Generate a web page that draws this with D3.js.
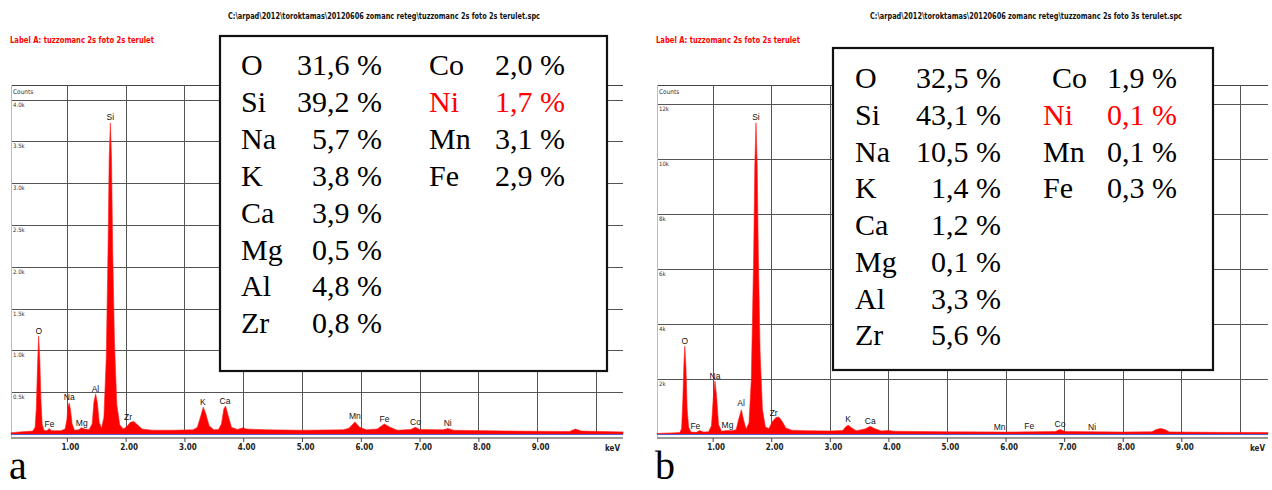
<!DOCTYPE html>
<html>
<head>
<meta charset="utf-8">
<script src="https://cdn.jsdelivr.net/npm/d3@7"></script>
<style>
  body { margin: 0; background: #fff; }
  svg { display: block; }
  .serif { font-family: "Liberation Serif", "DejaVu Serif", "Noto Serif", "Times New Roman", Times, serif; }
</style>
</head>
<body>
<div id="chart"></div>
<script>
// spectrum a: [keV, counts]
const spectrumA = [
  [0.05, 15], [0.2, 25], [0.3, 30], [0.42, 35], [0.46, 80], [0.48, 300], [0.50, 800], [0.52, 1170],
  [0.54, 900], [0.56, 400], [0.58, 120], [0.61, 45], [0.66, 40], [0.70, 65], [0.74, 40], [0.90, 40],
  [0.97, 60], [1.00, 170], [1.02, 330], [1.04, 370], [1.06, 300], [1.09, 120], [1.13, 45], [1.20, 50],
  [1.25, 75], [1.30, 60], [1.38, 55], [1.43, 120], [1.46, 380], [1.49, 480], [1.52, 370], [1.55, 140],
  [1.59, 70], [1.63, 200], [1.67, 900], [1.70, 2200], [1.72, 3300], [1.74, 3720], [1.76, 3300],
  [1.78, 2200], [1.81, 1100], [1.85, 350], [1.90, 110], [1.96, 60], [2.02, 90], [2.08, 140], [2.14, 150],
  [2.20, 110], [2.28, 60], [2.45, 45], [2.8, 45], [3.15, 50], [3.22, 80], [3.28, 220], [3.32, 320],
  [3.36, 250], [3.42, 100], [3.50, 50], [3.58, 55], [3.63, 120], [3.67, 300], [3.70, 335], [3.74, 230],
  [3.80, 80], [3.90, 55], [4.00, 75], [4.05, 60], [4.4, 50], [5.0, 45], [5.7, 50], [5.80, 70],
  [5.90, 145], [5.98, 80], [6.10, 50], [6.28, 60], [6.40, 120], [6.50, 80], [6.62, 45], [6.85, 55],
  [6.93, 80], [7.00, 55], [7.40, 50], [7.48, 65], [7.58, 45], [8.5, 35], [9.55, 30], [9.65, 60],
  [9.75, 35], [10.46, 25]
];
// spectrum b
const spectrumB = [
  [0.05, 20], [0.3, 40], [0.44, 50], [0.47, 200], [0.49, 1200], [0.51, 2600], [0.525, 3190],
  [0.545, 2400], [0.565, 900], [0.59, 250], [0.63, 70], [0.72, 60], [0.78, 130], [0.84, 70], [0.93, 80],
  [0.98, 300], [1.01, 1300], [1.04, 1920], [1.07, 1300], [1.10, 350], [1.15, 100], [1.25, 130],
  [1.32, 120], [1.40, 150], [1.44, 500], [1.49, 885], [1.53, 500], [1.57, 180], [1.62, 400],
  [1.66, 2000], [1.70, 6500], [1.72, 9800], [1.74, 11300], [1.76, 9800], [1.78, 6500], [1.81, 3000],
  [1.85, 900], [1.90, 250], [1.96, 200], [2.02, 450], [2.08, 600], [2.13, 620], [2.18, 480],
  [2.25, 220], [2.35, 140], [2.6, 120], [3.0, 110], [3.22, 130], [3.28, 280], [3.32, 315], [3.37, 230],
  [3.45, 120], [3.6, 180], [3.69, 280], [3.76, 200], [3.88, 110], [4.0, 130], [4.1, 100], [5.0, 80],
  [6.0, 70], [6.85, 90], [6.93, 160], [7.02, 90], [8.0, 70], [8.5, 80], [8.58, 170], [8.65, 200],
  [8.72, 160], [8.80, 75], [9.6, 60], [10.48, 55]
];

// peak markers
const peakNames = ["O", "Fe", "Na", "Mg", "Al", "Si", "Zr", "K", "Ca", "Mn", "Fe", "Co", "Ni"];
const peakKeV = [0.525, 0.705, 1.041, 1.253, 1.486, 1.739, 2.042, 3.312, 3.690, 5.899, 6.404, 6.930, 7.478];
const peakLabelA = [1232, 120, 443, 135, 538, 3795, 200, 386, 398, 219, 179, 147, 135];
const peakLabelB = [3387, 290, 2105, 316, 1114, 11518, 773, 545, 483, 265, 290, 352, 265];

// tick labels
const xTicks = [1, 2, 3, 4, 5, 6, 7, 8, 9];
const xGrid = [1, 2, 3, 4, 5, 6, 7, 8, 9, 10];
const yTicksA = [500, 1000, 1500, 2000, 2500, 3000, 3500, 4000];
const yLabelsA = ["0.5k", "1.0k", "1.5k", "2.0k", "2.5k", "3.0k", "3.5k", "4.0k"];
const yTicksB = [2000, 4000, 6000, 8000, 10000, 12000];
const yLabelsB = ["2k", "4k", "6k", "8k", "10k", "12k"];

// composition tables
const elemLeft = ["O", "Si", "Na", "K", "Ca", "Mg", "Al", "Zr"];
const elemRight = ["Co", "Ni", "Mn", "Fe"];
const valLeftA = ["31,6 %", "39,2 %", "5,7 %", "3,8 %", "3,9 %", "0,5 %", "4,8 %", "0,8 %"];
const valRightA = ["2,0 %", "1,7 %", "3,1 %", "2,9 %"];
const valLeftB = ["32,5 %", "43,1 %", "10,5 %", "1,4 %", "1,2 %", "0,1 %", "3,3 %", "5,6 %"];
const valRightB = ["1,9 %", "0,1 %", "0,1 %", "0,3 %"];

const titleA = "C:\\arpad\\2012\\toroktamas\\20120606 zomanc reteg\\tuzzomanc 2s foto 2s terulet.spc";
const titleB = "C:\\arpad\\2012\\toroktamas\\20120606 zomanc reteg\\tuzzomanc 2s foto 3s terulet.spc";
const labelA = "Label A: tuzzomanc 2s foto 2s  terulet";

const svg = d3.select("#chart").append("svg")
  .attr("width", 1272)
  .attr("height", 490);

const narrow = "'Liberation Sans Narrow', 'Arial Narrow', 'DejaVu Sans Condensed', sans-serif";

const drawPanel = (p) => {
  const x = d3.scaleLinear().domain([0.05, p.maxKeV]).range([p.left, p.right]);
  const y = d3.scaleLinear().domain([0, p.maxCount]).range([434, p.topGrid]);
  const g = svg.append("g");

  // titles
  g.append("text")
    .attr("x", p.titleX).attr("y", 19)
    .attr("textLength", 312).attr("lengthAdjust", "spacingAndGlyphs")
    .attr("font-family", narrow).attr("font-size", 8.5).attr("font-weight", "bold")
    .attr("fill", "#111")
    .text(p.title);
  g.append("text")
    .attr("x", p.left - 1).attr("y", 43)
    .attr("textLength", 144).attr("lengthAdjust", "spacingAndGlyphs")
    .attr("font-family", narrow).attr("font-size", 8.5).attr("font-weight", "bold")
    .attr("fill", "#ff0000")
    .text(labelA);

  // header strip
  g.append("line")
    .attr("x1", p.left).attr("x2", p.right).attr("y1", 85.5).attr("y2", 85.5)
    .attr("stroke", "#444");
  g.append("text")
    .attr("x", p.left + 2).attr("y", 94)
    .attr("font-family", narrow).attr("font-size", 6.5).attr("fill", "#333")
    .text("Counts");

  // grid
  g.selectAll(".hgrid").data(p.yTicks).join("line")
    .attr("x1", p.left).attr("x2", p.right)
    .attr("y1", d => Math.round(y(d)) + 0.5).attr("y2", d => Math.round(y(d)) + 0.5)
    .attr("stroke", "#555");
  g.selectAll(".vgrid").data(xGrid).join("line")
    .attr("x1", d => Math.round(x(d)) + 0.5).attr("x2", d => Math.round(x(d)) + 0.5)
    .attr("y1", 85).attr("y2", 434)
    .attr("stroke", "#555");
  g.append("line")
    .attr("x1", p.left + 0.5).attr("x2", p.left + 0.5).attr("y1", 85).attr("y2", 438)
    .attr("stroke", "#bbb");

  // y labels
  g.selectAll(".ylab").data(p.yTicks).join("text")
    .attr("x", p.left + 2).attr("y", d => y(d) + 7)
    .attr("font-family", narrow).attr("font-size", 6).attr("fill", "#333")
    .text((d, i) => p.yLabels[i]);

  // spectrum
  const area = d3.area()
    .x(d => x(d[0]))
    .y0(y(0))
    .y1(d => y(d[1]));
  g.append("path")
    .attr("d", area(p.spectrum))
    .attr("fill", "#ff0000")
    .attr("stroke", "#ff2020")
    .attr("stroke-width", 0.6);

  // baseline and axis bar
  g.append("line")
    .attr("x1", p.left).attr("x2", p.right).attr("y1", 434.5).attr("y2", 434.5)
    .attr("stroke", "#5a5ad0");
  g.append("rect")
    .attr("x", p.left).attr("y", 437).attr("width", p.right - p.left).attr("height", 2)
    .attr("fill", "#9a9a9a");

  const xAxis = d3.axisBottom(x)
    .tickValues(xTicks)
    .tickFormat(d3.format(".2f"))
    .tickSize(4)
    .tickPadding(2);
  const ax = g.append("g")
    .attr("transform", "translate(0,438)")
    .call(xAxis);
  ax.select(".domain").remove();
  ax.selectAll("line").attr("stroke", "#444");
  ax.selectAll("text")
    .attr("font-family", narrow).attr("font-size", 8).attr("font-weight", "bold")
    .attr("fill", "#222").attr("dx", 3);
  g.append("text")
    .attr("x", p.right - 18).attr("y", 451)
    .attr("font-family", narrow).attr("font-size", 8).attr("font-weight", "bold")
    .attr("fill", "#222")
    .text("keV");

  // peak labels
  g.selectAll(".plab").data(peakNames).join("text")
    .attr("x", (d, i) => x(peakKeV[i]))
    .attr("y", (d, i) => y(p.peakLabels[i]) + 3)
    .attr("text-anchor", "middle")
    .attr("font-family", "'Liberation Sans', Arial, sans-serif").attr("font-size", 8.5)
    .attr("fill", "#111")
    .text(d => d);

  // composition box
  g.append("rect")
    .attr("x", p.box[0]).attr("y", p.box[1])
    .attr("width", p.box[2] - p.box[0]).attr("height", p.box[3] - p.box[1])
    .attr("fill", "#fff").attr("stroke", "#111").attr("stroke-width", 2.2);

  const rowY = i => p.row0 + i * p.rowStep;
  g.selectAll(".el").data(elemLeft).join("text")
    .attr("class", "serif")
    .attr("x", p.colEl).attr("y", (d, i) => rowY(i))
    .attr("font-size", 30).attr("fill", "#000")
    .text(d => d);
  g.selectAll(".vl").data(p.valLeft).join("text")
    .attr("class", "serif")
    .attr("x", p.colVal).attr("y", (d, i) => rowY(i))
    .attr("text-anchor", "end")
    .attr("font-size", 30).attr("fill", "#000")
    .text(d => d);
  g.selectAll(".er").data(elemRight).join("text")
    .attr("class", "serif")
    .attr("x", (d, i) => p.colEl2 + (i === 0 ? p.coIndent : 0)).attr("y", (d, i) => rowY(i))
    .attr("font-size", 30)
    .attr("fill", d => d === "Ni" ? "#ff0000" : "#000")
    .text(d => d);
  g.selectAll(".vr").data(p.valRight).join("text")
    .attr("class", "serif")
    .attr("x", p.colVal2).attr("y", (d, i) => rowY(i))
    .attr("text-anchor", "end")
    .attr("font-size", 30)
    .attr("fill", (d, i) => elemRight[i] === "Ni" ? "#ff0000" : "#000")
    .text(d => d);

  // panel letter
  g.append("text")
    .attr("class", "serif")
    .attr("x", p.left - 2).attr("y", 479)
    .attr("font-size", 40).attr("fill", "#000")
    .text(p.letter);
};

drawPanel({
  left: 11, right: 623, maxKeV: 10.46, maxCount: 4000, topGrid: 99.6,
  spectrum: spectrumA, peakLabels: peakLabelA,
  yTicks: yTicksA, yLabels: yLabelsA,
  title: titleA, titleX: 228,
  box: [220, 36, 607, 371], row0: 75, rowStep: 36.9,
  colEl: 241, colVal: 382, colEl2: 429, colVal2: 565, coIndent: 0,
  valLeft: valLeftA, valRight: valRightA, letter: "a"
});

drawPanel({
  left: 657, right: 1268, maxKeV: 10.48, maxCount: 12000, topGrid: 103.5,
  spectrum: spectrumB, peakLabels: peakLabelB,
  yTicks: yTicksB, yLabels: yLabelsB,
  title: titleB, titleX: 870,
  box: [833, 48, 1213, 370], row0: 88.3, rowStep: 36.7,
  colEl: 855, colVal: 1001, colEl2: 1043, colVal2: 1177, coIndent: 9,
  valLeft: valLeftB, valRight: valRightB, letter: "b"
});
</script>
</body>
</html>
